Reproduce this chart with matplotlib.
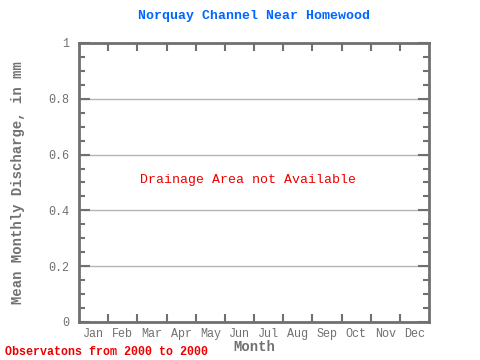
import numpy as np
import matplotlib
matplotlib.use("Agg")
import matplotlib.pyplot as plt

# ---------- data ----------
months = ["Jan", "Feb", "Mar", "Apr", "May", "Jun",
          "Jul", "Aug", "Sep", "Oct", "Nov", "Dec"]
discharge = [np.nan] * 12          # no data available
y_ticks = [0, 0.2, 0.4, 0.6, 0.8, 1]
y_labels = ["0", "0.2", "0.4", "0.6", "0.8", "1"]

title = "Norquay Channel Near Homewood"
note = "Drainage Area not Available"
footer = "Observatons from 2000 to 2000"

# ---------- theming ----------
GREY = "#707070"
GRID = "#b4b4b4"
BLUE = "#0066ff"
RED = "#ee0000"
MONO = ["Liberation Mono", "DejaVu Sans Mono"]

plt.rcParams["font.family"] = MONO

fig = plt.figure(figsize=(4.8, 3.6), dpi=100)
ax = fig.add_axes([0.1646, 0.1056, 0.7292, 0.775])

x = np.arange(12) + 0.5
ax.plot(x, discharge, color=BLUE)

ax.set_xlim(0, 12)
ax.set_ylim(0, 1)

# y axis
ax.set_yticks(y_ticks)
ax.set_yticklabels(y_labels)
ax.set_yticks(np.arange(0, 1.0001, 0.05), minor=True)
ax.yaxis.grid(True, which="major", color=GRID, linewidth=1)
ax.tick_params(axis="y", which="major", direction="in", length=8, width=1.5,
               left=True, right=True, colors=GREY, labelsize=8.5, pad=7)
ax.tick_params(axis="y", which="minor", direction="in", length=4, width=1.5,
               left=True, right=True, colors=GREY)

# x axis: ticks at month boundaries, labels centred
ax.set_xticks(np.arange(1, 12))
ax.set_xticklabels([])
ax.set_xticks(x, minor=True)
ax.set_xticklabels(months, minor=True)
ax.tick_params(axis="x", which="major", direction="in", length=6, width=1.5,
               top=True, bottom=True, colors=GREY)
ax.tick_params(axis="x", which="minor", length=0, colors=GREY,
               labelsize=8.5, pad=4)

for sp in ax.spines.values():
    sp.set_color(GREY)
    sp.set_linewidth(2)

ax.set_title(title, color=BLUE, fontsize=9.5, fontweight="bold", pad=17)
ax.set_ylabel("Mean Monthly Discharge, in mm", color=GREY, fontsize=10,
              fontweight="bold", labelpad=17)
ax.set_xlabel("Month", color=GREY, fontsize=10, fontweight="bold", labelpad=0)

ax.text(5.8, 0.51, note, color=RED, fontsize=9.5, ha="center", va="center")
fig.text(5 / 480, 1 - 352 / 360, footer, color=RED, fontsize=8.4,
         fontweight="bold", ha="left", va="center")

fig.savefig("out.png", dpi=100, facecolor="white")
